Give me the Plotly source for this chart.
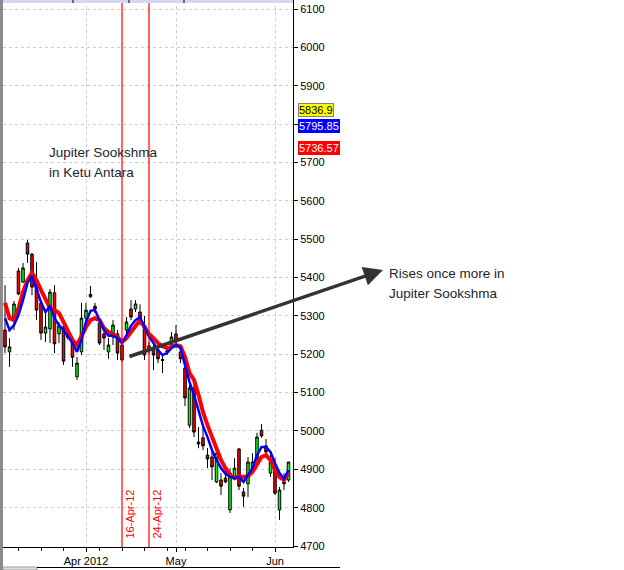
import plotly.graph_objects as go
import datetime as _dt

# ---------------- data ----------------
dates = [
    "2012-03-06", "2012-03-07", "2012-03-09", "2012-03-12", "2012-03-13", "2012-03-14",
    "2012-03-15", "2012-03-16", "2012-03-19", "2012-03-20", "2012-03-21", "2012-03-22",
    "2012-03-23", "2012-03-26", "2012-03-27", "2012-03-28", "2012-03-29", "2012-03-30",
    "2012-04-02", "2012-04-03", "2012-04-04", "2012-04-09", "2012-04-10", "2012-04-11",
    "2012-04-12", "2012-04-13", "2012-04-16", "2012-04-17", "2012-04-18", "2012-04-19",
    "2012-04-20", "2012-04-23", "2012-04-24", "2012-04-25", "2012-04-26", "2012-04-27",
    "2012-04-30", "2012-05-02", "2012-05-03", "2012-05-04", "2012-05-07", "2012-05-08",
    "2012-05-09", "2012-05-10", "2012-05-11", "2012-05-14", "2012-05-15", "2012-05-16",
    "2012-05-17", "2012-05-18", "2012-05-21", "2012-05-22", "2012-05-23", "2012-05-24",
    "2012-05-25", "2012-05-28", "2012-05-29", "2012-05-30", "2012-05-31", "2012-06-01",
    "2012-06-04", "2012-06-05", "2012-06-06", "2012-06-07",
]

opens = [
    5263, 5206, 5289, 5417, 5388, 5490, 5461, 5375, 5333, 5255, 5266, 5360,
    5253, 5271, 5250, 5234, 5141, 5206, 5294, 5350, 5325, 5281, 5253, 5206,
    5245, 5253, 5224, 5263, 5318, 5318, 5310, 5276, 5215, 5216, 5211, 5186,
    5206, 5224, 5253, 5206, 5164, 5015, 5112, 4966, 4982, 4937, 4932, 4867,
    4872, 4877, 4794, 4882, 4953, 4841, 4862, 4903, 4927, 5002, 4961, 4890,
    4901, 4794, 4867, 4872,
]
highs = [
    5380, 5242, 5339, 5425, 5438, 5498, 5464, 5440, 5341, 5315, 5370, 5380,
    5284, 5276, 5258, 5246, 5193, 5334, 5334, 5378, 5334, 5289, 5263, 5242,
    5289, 5263, 5229, 5297, 5341, 5341, 5330, 5300, 5232, 5229, 5219, 5198,
    5216, 5258, 5276, 5219, 5167, 5120, 5125, 5010, 5015, 4955, 4950, 4945,
    4890, 4903, 4903, 4929, 4955, 4851, 4932, 4942, 4995, 5018, 4979, 4942,
    4929, 4854, 4890, 4919,
]
lows = [
    5203, 5167, 5263, 5354, 5386, 5438, 5354, 5289, 5237, 5232, 5229, 5203,
    5229, 5172, 5238, 5167, 5133, 5198, 5268, 5347, 5307, 5224, 5211, 5188,
    5224, 5185, 5180, 5245, 5289, 5310, 5275, 5185, 5200, 5159, 5177, 5151,
    5198, 5216, 5216, 5177, 5065, 5008, 4984, 4955, 4950, 4903, 4872, 4864,
    4833, 4864, 4786, 4872, 4846, 4802, 4828, 4893, 4919, 4982, 4932, 4880,
    4833, 4768, 4846, 4867,
]
closes = [
    5219, 5219, 5331, 5357, 5425, 5461, 5375, 5315, 5255, 5271, 5362, 5227,
    5274, 5182, 5243, 5192, 5177, 5294, 5315, 5356, 5318, 5229, 5242, 5224,
    5276, 5203, 5185, 5284, 5297, 5331, 5289, 5198, 5222, 5198, 5188, 5184,
    5208, 5245, 5232, 5188, 5086, 5112, 4997, 4971, 4961, 4927, 4906, 4942,
    4856, 4867, 4890, 4903, 4856, 4830, 4919, 4919, 4984, 4987, 4945, 4919,
    4838, 4846, 4862, 4919,
]
ma_fast = [  # blue line
    5294, 5263, 5276, 5302, 5341, 5386, 5404, 5367, 5336, 5310, 5326, 5294,
    5276, 5263, 5245, 5229, 5206, 5237, 5284, 5313, 5315, 5289, 5263, 5248,
    5248, 5242, 5229, 5250, 5274, 5289, 5297, 5271, 5245, 5229, 5211, 5198,
    5203, 5216, 5224, 5216, 5169, 5128, 5094, 5055, 5013, 4984, 4950, 4924,
    4903, 4888, 4880, 4877, 4880, 4867, 4885, 4903, 4937, 4958, 4958, 4945,
    4916, 4890, 4875, 4898,
]
ma_slow = [  # red line
    5334, 5294, 5289, 5320, 5362, 5393, 5412, 5393, 5367, 5341, 5320, 5315,
    5307, 5284, 5258, 5237, 5224, 5250, 5271, 5289, 5294, 5289, 5268, 5258,
    5253, 5245, 5232, 5242, 5258, 5276, 5289, 5271, 5253, 5242, 5229, 5221,
    5216, 5219, 5224, 5221, 5193, 5151, 5133, 5094, 5049, 5015, 4984, 4950,
    4924, 4903, 4885, 4877, 4882, 4880, 4882, 4893, 4914, 4932, 4937, 4924,
    4898, 4880, 4872, 4890,
]

x_tick_pos = [18, 38, 60]
x_tick_text = ["Apr 2012", "May", "Jun"]
y_ticks = list(range(4700, 6101, 100))
y_hidden_labels = [5800]  # covered by the price tags in the original

event_dates = ["2012-04-16", "2012-04-24"]
event_labels = ["16-Apr-12", "24-Apr-12"]

price_tags = [5836.9, 5795.85, 5736.57]
price_tag_text = ["5836.9", "5795.85", "5736.57"]
price_tag_bg = ["#ffff00", "#0000ff", "#ff0000"]
price_tag_fg = ["#000000", "#ffffff", "#ffffff"]

note1 = ["Jupiter Sookshma", "in Ketu Antara"]
note2 = ["Rises once more in", "Jupiter Sookshma"]

# ---------------- layout helpers ----------------
W, H = 624, 570
PL, PR, PT, PB = 3, 293, 0, 547  # plot area in pixels
pw, ph = PR - PL, PB - PT


def px(xp):
    return (xp - PL) / pw


def py(yp):
    return (PB - yp) / ph


xs = list(range(len(dates)))
FONT = "Liberation Sans, Arial, sans-serif"

fig = go.Figure()
fig.add_trace(go.Candlestick(
    x=xs, open=opens, high=highs, low=lows, close=closes,
    increasing=dict(fillcolor="#00ff00", line=dict(color="#000000", width=1)),
    decreasing=dict(fillcolor="#ff0000", line=dict(color="#000000", width=1)),
    whiskerwidth=0, showlegend=False, hoverinfo="skip",
))
fig.add_trace(go.Scatter(x=xs, y=ma_slow, mode="lines",
                         line=dict(color="#ff0000", width=4), showlegend=False))
fig.add_trace(go.Scatter(x=xs, y=ma_fast, mode="lines",
                         line=dict(color="#0000ff", width=2.5), showlegend=False))

shapes = []
annotations = []

# event vertical lines
for d, lab in zip(event_dates, event_labels):
    xi = dates.index(d)
    shapes.append(dict(type="line", xref="x", yref="paper", x0=xi, x1=xi, y0=0, y1=1,
                       line=dict(color="#ff0000", width=1.2)))
    annotations.append(dict(x=xi, y=py(541), xref="x", yref="paper", text=lab,
                            textangle=-90, showarrow=False, xshift=7,
                            xanchor="center", yanchor="bottom",
                            font=dict(family=FONT, size=11, color="#ff0000")))

# top strip (bottom of upper pane)
shapes.append(dict(type="rect", xref="paper", yref="paper", x0=0, x1=1,
                   y0=py(3), y1=1, fillcolor="#d6d6f4", line=dict(width=0), layer="above"))
for tx in [73, 129, 184]:
    shapes.append(dict(type="line", xref="paper", yref="paper", x0=px(tx), x1=px(tx),
                       y0=py(3), y1=1, line=dict(color="#000000", width=1)))
# left frame
shapes.append(dict(type="rect", xref="paper", yref="paper", x0=px(0), x1=0,
                   y0=py(570), y1=1, fillcolor="#8c8c8c", line=dict(width=0)))
# bottom strip
shapes.append(dict(type="rect", xref="paper", yref="paper", x0=0, x1=px(37),
                   y0=py(570), y1=py(567), fillcolor="#e0e0e0",
                   line=dict(color="#a0a0a0", width=1)))
shapes.append(dict(type="line", xref="paper", yref="paper", x0=px(37), x1=px(340),
                   y0=py(567.5), y1=py(567.5), line=dict(color="#000000", width=1)))

# price tags on the right axis
for v, t, bg, fg in zip(price_tags, price_tag_text, price_tag_bg, price_tag_fg):
    annotations.append(dict(x=px(298), y=v, xref="paper", yref="y", text=t,
                            showarrow=False, xanchor="left", yanchor="middle",
                            bgcolor=bg, bordercolor="#808080" if bg == "#ffff00" else bg,
                            borderwidth=1, borderpad=0,
                            font=dict(family=FONT, size=11, color=fg)))

# text notes
for i, t in enumerate(note1):
    annotations.append(dict(x=px(47), y=py(152 + 20 * i), xref="paper", yref="paper",
                            text=t, showarrow=False, xanchor="left", yanchor="middle",
                            font=dict(family=FONT, size=13.5, color="#1e1e2e")))
for i, t in enumerate(note2):
    annotations.append(dict(x=px(387), y=py(273 + 20 * i), xref="paper", yref="paper",
                            text=t, showarrow=False, xanchor="left", yanchor="middle",
                            font=dict(family=FONT, size=13.5, color="#1e1e2e")))

# arrow
annotations.append(dict(x=px(383), y=py(270), xref="paper", yref="paper", text="",
                        showarrow=True, ax=128 - 383, ay=357 - 270,
                        axref="pixel", ayref="pixel",
                        arrowhead=2, arrowsize=1.1, arrowwidth=3.5,
                        arrowcolor="#333333", standoff=0, startstandoff=0))

mondays = []
for i, d in enumerate(dates):
    if _dt.date.fromisoformat(d).weekday() == 0 and i not in x_tick_pos:
        mondays.append(i)

fig.update_layout(
    width=W, height=H,
    margin=dict(l=PL, r=W - PR, t=PT, b=H - PB, pad=0, autoexpand=False),
    paper_bgcolor="#ffffff", plot_bgcolor="#ffffff",
    showlegend=False, boxgap=0.2,
    font=dict(family=FONT, size=11, color="#000000"),
    shapes=shapes, annotations=annotations,
    xaxis=dict(
        range=[-0.444, 64], rangeslider=dict(visible=False),
        tickmode="array", tickvals=x_tick_pos, ticktext=x_tick_text,
        ticks="outside", ticklen=4, tickcolor="#000000",
        showline=True, linecolor="#000000", linewidth=1,
        showgrid=True, gridcolor="#cccccc", griddash="3px,3px", gridwidth=1,
        zeroline=False, tickfont=dict(family=FONT, size=11, color="#000000"),
        minor=dict(tickmode="array", tickvals=mondays, ticks="outside",
                   ticklen=3, tickcolor="#000000", showgrid=False),
    ),
    yaxis=dict(
        range=[4697.4, 6123.5], side="right",
        tickmode="array", tickvals=y_ticks,
        ticktext=["" if v in y_hidden_labels else str(v) for v in y_ticks],
        ticks="outside", ticklen=4, tickcolor="#000000",
        showline=True, linecolor="#000000", linewidth=1,
        showgrid=True, gridcolor="#cccccc", griddash="3px,3px", gridwidth=1,
        zeroline=False, tickfont=dict(family=FONT, size=11, color="#000000"),
    ),
)

fig.write_html("out.html", config={"displayModeBar": False},
               post_script="document.body.style.margin='0';document.body.style.padding='0';")
